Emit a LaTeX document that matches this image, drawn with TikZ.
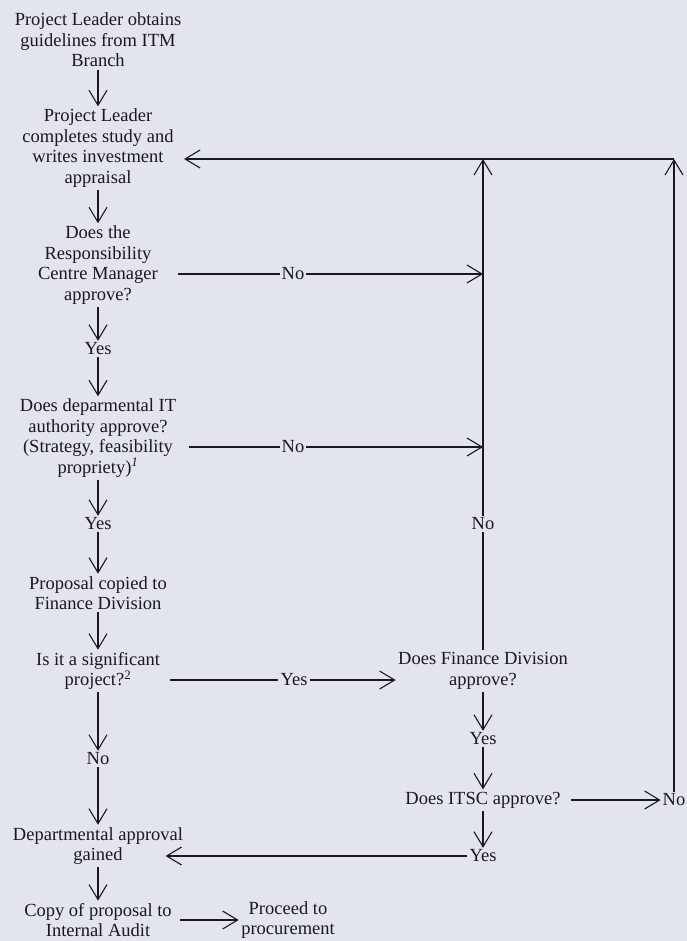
\documentclass[tikz,border=0pt]{standalone}
\usepackage{fontspec}
\setmainfont{Liberation Serif}
\usetikzlibrary{arrows.meta,calc}
\definecolor{page}{RGB}{226,229,237}
\definecolor{ink}{RGB}{25,25,30}

\begin{document}
\begin{tikzpicture}[x=1pt, y=-1pt, line width=1.1pt, draw=ink, text=ink,
    >={Straight Barb[length=15pt,width=18pt]},
    stage/.style={align=center, inner sep=2pt, font=\fontsize{18.5}{20.5}\selectfont},
    answer/.style={inner sep=1.5pt, font=\fontsize{18.5}{20.5}\selectfont}]
    \fill[page] (0,0) rectangle (687,941);
    \useasboundingbox (0,0) rectangle (687,941);

    \node[stage] (n1) at (98,40) {Project Leader obtains\\guidelines from ITM\\Branch};
    \node[stage] (n2) at (98,148) {Project Leader\\completes study and\\writes investment\\appraisal};
    \node[stage] (n3) at (98,265) {Does the\\Responsibility\\Centre Manager\\approve?};
    \node[answer] (y1) at (98,349) {Yes};
    \node[stage] (n4) at (98,438) {Does deparmental IT\\authority approve?\\(Strategy, feasibility\\propriety)\textsuperscript{\itshape 1}};
    \node[answer] (y2) at (98,524) {Yes};
    \node[stage] (n5) at (98,593) {Proposal copied to\\Finance Division};
    \node[stage] (n6) at (98,671) {Is it a significant\\project?\textsuperscript{2}};
    \node[answer] (no5) at (98,759) {No};
    \node[stage] (n8) at (98,846) {Departmental approval\\gained};
    \node[stage] (n10) at (98,920) {Copy of proposal to\\Internal Audit};
    \node[stage] (n11) at (288,920) {Proceed to\\procurement};

    \node[stage] (n7) at (483,671) {Does Finance Division\\approve?};
    \node[answer] (y4) at (483,739) {Yes};
    \node[stage] (n9) at (483,800) {Does ITSC approve?};
    \node[answer] (y5) at (483,856) {Yes};
    \node[answer] (no4) at (674,800) {No};

    \node[answer] (no1) at (293,274) {No};
    \node[answer] (no2) at (293,447) {No};
    \node[answer] (y3) at (294,680) {Yes};
    \node[answer] (no3) at (483,524) {No};

    \coordinate (c1) at (483,159);
    \coordinate (c2) at (674,159);

    \draw[->] (n1) -- (n2);
    \draw[->] (n2) -- (n3);
    \draw[->] (n3) -- (y1);
    \draw[->] (y1) -- (n4);
    \draw[->] (n4) -- (y2);
    \draw[->] (y2) -- (n5);
    \draw[->] (n5) -- (n6);
    \draw[->] (n6) -- (no5);
    \draw[->] (no5) -- (n8);
    \draw[->] (n8) -- (n10);
    \draw[->, shorten <=6pt] (n10) -- (n11);

    \draw ($(n3.east |- no1)+(18,0)$) -- (no1);
    \draw[->] (no1) -- (no1 -| c1);
    \draw ($(n4.east |- no2)+(10,0)$) -- (no2);
    \draw[->] (no2) -- (no2 -| c1);
    \draw ($(n6.east |- y3)+(8,0)$) -- (y3);
    \draw[->] (y3) -- (n7.west |- y3);

    \draw (n7) -- (no3);
    \draw[->] (no3) -- (c1);
    \draw[->] (n7) -- (y4);
    \draw[->] (y4) -- (n9);
    \draw[->] (n9) -- (y5);
    \draw[->, shorten <=8pt] (n9) -- (no4);
    \draw[->] (no4) -- (c2);
    \draw[->] (c2) -- ($(n2.east |- c2)+(8,0)$);
    \draw[->] (y5) -- ($(n8.east |- y5)+(-20,0)$);
\end{tikzpicture}
\end{document}
